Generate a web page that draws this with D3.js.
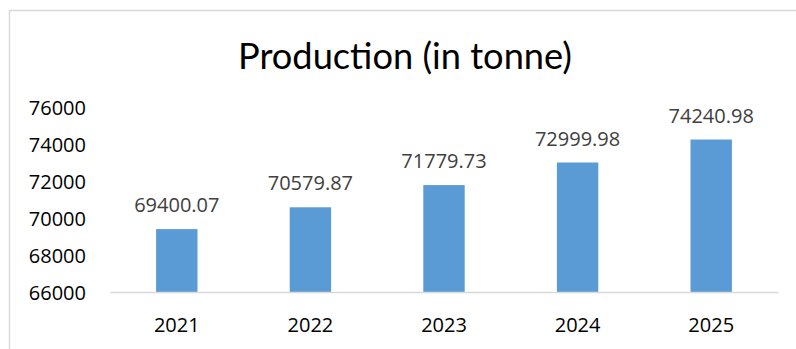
<!DOCTYPE html>
<html>
<head>
<meta charset="utf-8">
<script src="https://cdn.jsdelivr.net/npm/d3@7"></script>
<style>
  html, body { margin: 0; padding: 0; background: #ffffff; }
  svg { display: block; }
</style>
</head>
<body>
<svg id="chart" width="796" height="349"></svg>
<script>
// Annual production figures
const years = ["2021", "2022", "2023", "2024", "2025"];
const production = [69400.07, 70579.87, 71779.73, 72999.98, 74240.98];
const valueLabels = ["69400.07", "70579.87", "71779.73", "72999.98", "74240.98"];
const yTicks = [66000, 68000, 70000, 72000, 74000, 76000];
const titleText = "Production (in tonne)";

const svg = d3.select("#chart");
const W = 796, H = 349;
const plot = { left: 110, right: 778, top: 107, bottom: 292 };
const font = "'Open Sans', 'Liberation Sans', sans-serif";

// Chart frame
svg.append("rect")
  .attr("x", 9.5).attr("y", 10.5)
  .attr("width", W + 10).attr("height", H + 10)
  .attr("fill", "#ffffff")
  .attr("stroke", "#d9d9d9").attr("stroke-width", 1.5);

// Title
svg.append("text")
  .attr("x", 405).attr("y", 69)
  .attr("text-anchor", "middle")
  .attr("font-family", "Lato, 'Open Sans', sans-serif")
  .attr("font-size", 36)
  .attr("fill", "#000000")
  .attr("textLength", 334)
  .attr("lengthAdjust", "spacingAndGlyphs")
  .text(titleText);

const x = d3.scaleBand().domain(years).range([plot.left, plot.right]).padding(0);
const y = d3.scaleLinear().domain([66000, 76000]).range([plot.bottom, plot.top]);
const barW = x.bandwidth() * 0.31;

// Y axis labels (no axis line or ticks)
const yAxis = d3.axisLeft(y).tickValues(yTicks).tickSize(0).tickPadding(0).tickFormat(d3.format("d"));
const yg = svg.append("g").attr("transform", "translate(86,0)").call(yAxis);
yg.select(".domain").remove();
yg.selectAll("text")
  .attr("font-family", font).attr("font-size", 20)
  .attr("fill", "#000000").attr("dy", "0.35em");

// Bars
svg.append("g").selectAll("rect")
  .data(years)
  .join("rect")
  .attr("x", (d) => x(d) + (x.bandwidth() - barW) / 2)
  .attr("y", (d, i) => y(production[i]))
  .attr("width", barW)
  .attr("height", (d, i) => y(66000) - y(production[i]))
  .attr("fill", "#5b9bd5");

// Category axis
const xAxis = d3.axisBottom(x).tickSize(0).tickPadding(0);
const xg = svg.append("g").attr("transform", `translate(0,${plot.bottom})`).call(xAxis);
xg.select(".domain").attr("stroke", "#d9d9d9").attr("stroke-width", 1.5);
xg.selectAll("text")
  .attr("font-family", font).attr("font-size", 20)
  .attr("fill", "#000000").attr("y", 40).attr("dy", 0);

// Value labels
svg.append("g").selectAll("text")
  .data(years)
  .join("text")
  .attr("x", (d) => x(d) + x.bandwidth() / 2)
  .attr("y", (d, i) => y(production[i]) - 17)
  .attr("text-anchor", "middle")
  .attr("font-family", font).attr("font-size", 20)
  .attr("fill", "#404040")
  .text((d, i) => valueLabels[i]);
</script>
</body>
</html>
